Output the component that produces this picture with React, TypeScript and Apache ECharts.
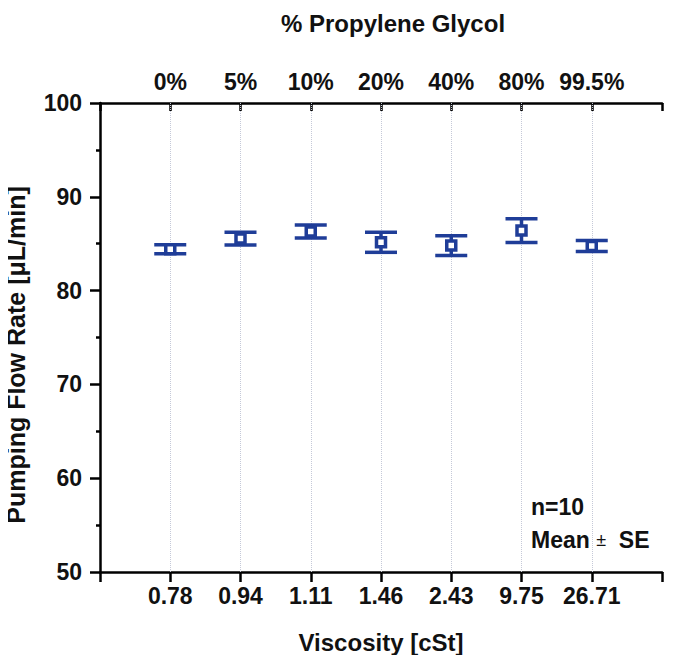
import React, { useEffect, useRef } from "react";
import * as echarts from "echarts";

const viscosityLabels = ["0.78", "0.94", "1.11", "1.46", "2.43", "9.75", "26.71"];
const glycolLabels = ["0%", "5%", "10%", "20%", "40%", "80%", "99.5%"];
const meanFlow = [84.4, 85.55, 86.3, 85.15, 84.8, 86.4, 84.75];
const seFlow = [0.48, 0.68, 0.7, 1.07, 1.05, 1.26, 0.59];

const BLUE = "#1f3d98";
const FONT = "'Liberation Sans', Arial, sans-serif";

export default function App() {
  const ref = useRef<HTMLDivElement>(null);
  useEffect(() => {
    if (!ref.current) return;
    const chart = echarts.init(ref.current, undefined, { renderer: "svg" });
    const points = meanFlow.map((m, i) => [i + 1, m]);
    const bars = meanFlow.map((m, i) => [i + 1, m - seFlow[i], m + seFlow[i]]);
    const axisCommon = {
      type: "value" as const,
      min: 0,
      max: 8,
      interval: 1,
      axisLine: { show: true, onZero: false, lineStyle: { color: "#000", width: 2.5 } },
      splitLine: { show: false },
      nameLocation: "middle" as const,
    };
    chart.setOption({
      animation: false,
      backgroundColor: "#fff",
      grid: { left: 100, right: 11, top: 103, bottom: 91 },
      xAxis: [
        {
          ...axisCommon,
          position: "bottom",
          name: "Viscosity [cSt]",
          nameGap: 58,
          nameTextStyle: { fontFamily: FONT, fontWeight: "bold", fontSize: 24, color: "#111" },
          axisTick: { show: true, inside: false, length: 10, lineStyle: { color: "#000", width: 2.5 } },
          axisLabel: {
            margin: 12,
            fontFamily: FONT,
            fontWeight: "bold",
            fontSize: 23,
            color: "#111",
            formatter: (v: number) => viscosityLabels[v - 1] ?? "",
          },
        },
        {
          ...axisCommon,
          position: "top",
          name: "% Propylene Glycol",
          nameGap: 68,
          nameTextStyle: {
            fontFamily: FONT,
            fontWeight: "bold",
            fontSize: 24,
            color: "#111",
            padding: [0, 0, 0, 24],
          },
          axisTick: { show: true, inside: true, length: 8, lineStyle: { color: "#000", width: 2.5 } },
          axisLabel: {
            margin: 10,
            fontFamily: FONT,
            fontWeight: "bold",
            fontSize: 23,
            color: "#111",
            formatter: (v: number) => glycolLabels[v - 1] ?? "",
          },
        },
      ],
      yAxis: {
        type: "value",
        min: 50,
        max: 100,
        interval: 10,
        axisLine: { show: true, lineStyle: { color: "#000", width: 2.5 } },
        axisTick: { show: true, inside: false, length: 10, lineStyle: { color: "#000", width: 2.5 } },
        minorTick: { show: true, splitNumber: 2, length: 4, lineStyle: { color: "#000", width: 2.5 } },
        splitLine: { show: false },
        axisLabel: { margin: 18, fontFamily: FONT, fontWeight: "bold", fontSize: 23, color: "#111" },
      },
      series: [
        {
          type: "custom",
          xAxisIndex: 0,
          renderItem: (params: any, api: any) => {
            const x = api.value(0);
            const lo = api.coord([x, api.value(1)]);
            const hi = api.coord([x, api.value(2)]);
            const hw = 16;
            const style = { stroke: BLUE, lineWidth: 3.5, fill: "none" };
            return {
              type: "group",
              children: [
                { type: "line", shape: { x1: hi[0], y1: hi[1], x2: lo[0], y2: lo[1] }, style },
                { type: "line", shape: { x1: hi[0] - hw, y1: hi[1], x2: hi[0] + hw, y2: hi[1] }, style },
                { type: "line", shape: { x1: lo[0] - hw, y1: lo[1], x2: lo[0] + hw, y2: lo[1] }, style },
              ],
            };
          },
          data: bars,
          z: 3,
        },
        {
          type: "scatter",
          xAxisIndex: 0,
          symbol: "rect",
          symbolSize: 9,
          itemStyle: { color: "#fff", borderColor: BLUE, borderWidth: 3.5, opacity: 1 },
          data: points,
          z: 4,
          markLine: {
            silent: true,
            symbol: "none",
            label: { show: false },
            lineStyle: { color: "#c5c9d8", width: 1, type: "dotted" },
            data: viscosityLabels.map((_, i) => ({ xAxis: i + 1 })),
            z: 1,
          },
        },
      ],
      graphic: [
        {
          type: "text",
          x: 16,
          y: 355,
          rotation: Math.PI / 2,
          style: {
            text: "Pumping Flow Rate [\u03bcL/min]",
            font: `bold 25px ${FONT}`,
            fill: "#111",
            align: "center",
            verticalAlign: "middle",
          },
        },
        {
          type: "text",
          left: 531,
          top: 495,
          style: {
            text: "n=10",
            font: `bold 23px ${FONT}`,
            fill: "#111",
          },
        },
        {
          type: "text",
          left: 531,
          top: 528,
          style: {
            text: "{b|Mean }{n|\u00b1}{b|  SE}",
            rich: {
              b: { font: `bold 23px ${FONT}`, fill: "#111" },
              n: { font: `18px ${FONT}`, fill: "#111" },
            },
          },
        },
      ],
    });
    return () => chart.dispose();
  }, []);
  return <div ref={ref} style={{ width: 673, height: 663, margin: -8 }} />;
}
